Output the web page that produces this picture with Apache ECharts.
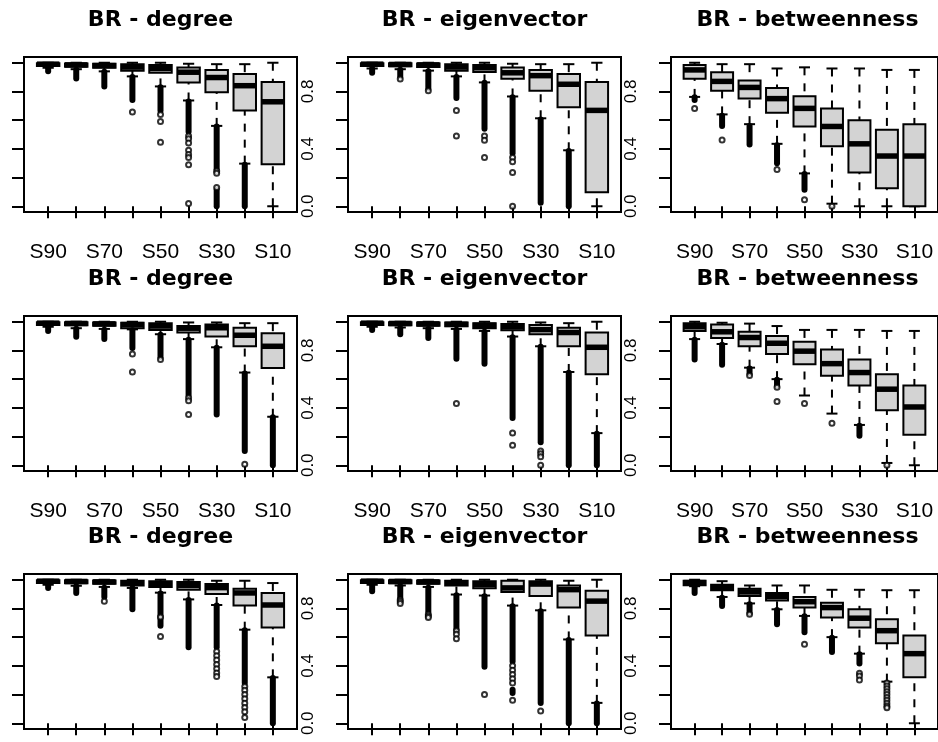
<!DOCTYPE html>
<html>
<head>
<meta charset="utf-8">
<title>BR boxplots</title>
<script src="https://cdn.jsdelivr.net/npm/echarts@6/dist/echarts.min.js"></script>
<style>
  html, body { margin: 0; background: #fff; }
  #main { width: 938px; height: 742px; }
</style>
</head>
<body>
<div id="main"></div>
<script>
// categories along x (only every other one gets a label, like R dropped the rest)
var categories = ['S90', 'S80', 'S70', 'S60', 'S50', 'S40', 'S30', 'S20', 'S10'];
var shownCats = [1, 3, 5, 7, 9];
var yTicks = [0, 0.2, 0.4, 0.6, 0.8, 1.0];
var yLabels = [0, 0.4, 0.8];
var titles = ['BR - degree', 'BR - eigenvector', 'BR - betweenness'];

// box stats per category: [lower whisker, q1, median, q3, upper whisker]
// dense outlier runs: [category, from, to]; single outliers: [category, value]

// ---- row 1
var deg1 = [[0.965,0.978,0.99,0.996,1.0],[0.955,0.972,0.985,0.995,1.0],[0.94,0.965,0.98,0.993,1.0],
  [0.905,0.945,0.97,0.99,1.0],[0.835,0.93,0.96,0.985,1.0],[0.737,0.863,0.934,0.966,0.993],
  [0.56,0.794,0.897,0.95,0.99],[0.297,0.668,0.84,0.922,0.99],[0.0,0.293,0.728,0.865,1.0]];
var deg1Dense = [[1,0.94,0.962],[2,0.89,0.952],[3,0.835,0.937],[4,0.74,0.9],[5,0.665,0.83],
  [6,0.52,0.73],[7,0.26,0.555],[7,0.0,0.115],[8,0.0,0.29]];
var deg1Out = [[4,0.657],[5,0.64],[5,0.59],[5,0.446],[6,0.49],[6,0.47],[6,0.44],[6,0.39],[6,0.36],
  [6,0.34],[6,0.29],[6,0.02],[7,0.245],[7,0.23],[7,0.13]];

var eig1 = [[0.96,0.978,0.99,0.996,1.0],[0.955,0.975,0.988,0.996,1.0],[0.945,0.97,0.985,0.995,1.0],
  [0.905,0.945,0.97,0.99,1.0],[0.863,0.935,0.965,0.985,1.0],[0.765,0.888,0.93,0.966,0.993],
  [0.613,0.805,0.91,0.95,0.99],[0.39,0.69,0.85,0.922,0.99],[0.0,0.098,0.668,0.865,1.0]];
var eig1Dense = [[1,0.93,0.958],[2,0.905,0.952],[3,0.82,0.94],[4,0.755,0.9],[5,0.54,0.86],
  [6,0.37,0.76],[7,0.025,0.605],[8,0.0,0.385]];
var eig1Out = [[2,0.886],[3,0.805],[4,0.668],[4,0.49],[5,0.49],[5,0.46],[5,0.34],
  [6,0.34],[6,0.31],[6,0.236],[6,0.0]];

var bet1 = [[0.762,0.888,0.95,0.984,1.0],[0.64,0.805,0.87,0.934,0.99],[0.572,0.75,0.828,0.876,0.99],
  [0.435,0.652,0.75,0.824,0.96],[0.229,0.556,0.682,0.767,0.968],[0.018,0.419,0.556,0.682,0.96],
  [0.0,0.236,0.435,0.6,0.96],[0.0,0.126,0.35,0.533,0.95],[0.0,0.0,0.35,0.572,0.95]];
var bet1Dense = [[1,0.74,0.76],[2,0.56,0.63],[3,0.43,0.56],[4,0.3,0.425],[5,0.115,0.225]];
var bet1Out = [[1,0.682],[2,0.462],[4,0.256],[5,0.046],[6,0.0]];

// ---- row 2
var deg2 = [[0.965,0.978,0.99,0.996,1.0],[0.955,0.975,0.988,0.996,1.0],[0.95,0.972,0.985,0.995,1.0],
  [0.947,0.955,0.98,0.993,1.0],[0.913,0.943,0.97,0.99,1.0],[0.879,0.925,0.955,0.97,0.995],
  [0.822,0.897,0.958,0.98,0.995],[0.646,0.829,0.906,0.959,0.99],[0.338,0.678,0.829,0.92,0.99]];
var deg2Dense = [[1,0.935,0.962],[2,0.895,0.952],[3,0.88,0.945],[4,0.817,0.94],[5,0.753,0.91],
  [6,0.49,0.875],[7,0.354,0.818],[8,0.1,0.64],[9,0.0,0.335]];
var deg2Out = [[4,0.776],[4,0.65],[5,0.737],[6,0.47],[6,0.45],[6,0.354],[8,0.007]];

var eig2 = [[0.965,0.978,0.99,0.996,1.0],[0.96,0.976,0.988,0.996,1.0],[0.955,0.972,0.985,0.995,1.0],
  [0.95,0.968,0.982,0.994,1.0],[0.936,0.955,0.975,0.99,1.0],[0.897,0.94,0.965,0.985,1.0],
  [0.829,0.913,0.945,0.977,0.995],[0.65,0.829,0.925,0.959,0.99],[0.224,0.635,0.822,0.925,1.0]];
var eig2Dense = [[1,0.943,0.962],[2,0.913,0.955],[3,0.886,0.95],[4,0.742,0.945],[5,0.708,0.93],
  [6,0.33,0.892],[7,0.16,0.825],[8,0.0,0.645],[9,0.0,0.22]];
var eig2Out = [[4,0.43],[6,0.224],[6,0.14],[7,0.1],[7,0.08],[7,0.06],[7,0.0]];

var bet2 = [[0.879,0.936,0.965,0.99,1.0],[0.845,0.886,0.93,0.98,0.993],[0.68,0.829,0.89,0.93,0.987],
  [0.6,0.776,0.85,0.9,0.97],[0.486,0.703,0.795,0.86,0.943],[0.36,0.623,0.708,0.806,0.943],
  [0.281,0.555,0.646,0.737,0.943],[0.016,0.384,0.53,0.635,0.936],[0.0,0.212,0.406,0.555,0.936]];
var bet2Dense = [[1,0.737,0.875],[2,0.7,0.84],[3,0.64,0.675],[4,0.555,0.595],[7,0.205,0.275]];
var bet2Out = [[3,0.625],[4,0.543],[4,0.445],[5,0.43],[6,0.292],[8,0.0]];

// ---- row 3
var deg3 = [[0.965,0.978,0.99,0.996,1.0],[0.958,0.975,0.988,0.996,1.0],[0.95,0.972,0.985,0.995,1.0],
  [0.943,0.96,0.978,0.993,1.0],[0.91,0.95,0.972,0.99,1.0],[0.863,0.93,0.96,0.985,1.0],
  [0.824,0.9,0.945,0.97,0.993],[0.652,0.82,0.908,0.938,0.993],[0.32,0.668,0.824,0.908,0.977]];
var deg3Dense = [[1,0.943,0.962],[2,0.908,0.955],[3,0.88,0.945],[4,0.794,0.94],[5,0.68,0.905],
  [6,0.53,0.858],[7,0.53,0.82],[8,0.28,0.648],[9,0.0,0.316]];
var deg3Out = [[3,0.851],[5,0.74],[5,0.604],[7,0.5],[7,0.47],[7,0.44],[7,0.41],[7,0.38],[7,0.35],
  [7,0.325],[8,0.256],[8,0.23],[8,0.2],[8,0.17],[8,0.14],[8,0.11],[8,0.08],[8,0.04]];

var eig3 = [[0.965,0.978,0.99,0.996,1.0],[0.96,0.975,0.988,0.996,1.0],[0.95,0.972,0.985,0.995,1.0],
  [0.897,0.96,0.978,0.993,1.0],[0.89,0.94,0.968,0.99,1.0],[0.82,0.915,0.943,0.993,1.0],
  [0.787,0.886,0.97,0.99,1.0],[0.584,0.806,0.931,0.96,0.993],[0.142,0.611,0.851,0.924,1.0]];
var eig3Dense = [[1,0.92,0.962],[2,0.874,0.955],[3,0.78,0.945],[4,0.657,0.892],[5,0.394,0.885],
  [6,0.43,0.815],[6,0.21,0.233],[7,0.142,0.78],[8,0.0,0.58],[9,0.0,0.138]];
var eig3Out = [[2,0.86],[2,0.848],[2,0.835],[3,0.76],[3,0.748],[3,0.737],[4,0.645],[4,0.62],[4,0.588],
  [5,0.2],[6,0.4],[6,0.37],[6,0.34],[6,0.31],[6,0.28],[6,0.16],[7,0.085]];

var bet3 = [[0.955,0.962,0.98,0.993,1.0],[0.88,0.927,0.945,0.965,0.99],[0.835,0.886,0.915,0.938,0.96],
  [0.794,0.856,0.883,0.908,0.96],[0.748,0.806,0.847,0.88,0.96],[0.6,0.737,0.806,0.84,0.93],
  [0.485,0.668,0.732,0.794,0.93],[0.29,0.558,0.645,0.725,0.927],[0.0,0.32,0.485,0.611,0.927]];
var bet3Dense = [[1,0.908,0.952],[2,0.817,0.875],[3,0.77,0.83],[4,0.69,0.79],[5,0.634,0.745],
  [6,0.497,0.595],[7,0.417,0.48]];
var bet3Out = [[3,0.76],[5,0.55],[7,0.348],[7,0.33],[7,0.302],[8,0.28],[8,0.26],[8,0.24],[8,0.22],
  [8,0.2],[8,0.18],[8,0.16],[8,0.14],[8,0.12],[8,0.108]];

var panels = [
  [deg1, deg1Dense, deg1Out], [eig1, eig1Dense, eig1Out], [bet1, bet1Dense, bet1Out],
  [deg2, deg2Dense, deg2Out], [eig2, eig2Dense, eig2Out], [bet2, bet2Dense, bet2Out],
  [deg3, deg3Dense, deg3Out], [eig3, eig3Dense, eig3Out], [bet3, bet3Dense, bet3Out]
];

// layout of the 3x3 R-style device (right column is cut off by the window)
var colLeft = [24, 348, 671];
var rowTop = [57, 316, 574];
var plotW = 273, plotH = 155;

var tickFont = "'Liberation Sans', Arial, sans-serif";

function renderBox(params, api) {
  var x = api.value(0);
  var lo = api.coord([x, api.value(1)]);
  var q1 = api.coord([x, api.value(2)]);
  var md = api.coord([x, api.value(3)]);
  var q3 = api.coord([x, api.value(4)]);
  var hi = api.coord([x, api.value(5)]);
  var bw = api.size([0.8, 0])[0];
  var sw = bw / 4;
  var cx = md[0];
  var dash = { stroke: '#000', lineWidth: 2, lineDash: [8, 8] };
  var solid = { stroke: '#000', lineWidth: 2 };
  return {
    type: 'group',
    children: [
      { type: 'line', shape: { x1: cx, y1: hi[1], x2: cx, y2: q3[1] }, style: dash },
      { type: 'line', shape: { x1: cx, y1: lo[1], x2: cx, y2: q1[1] }, style: dash },
      { type: 'line', shape: { x1: cx - sw, y1: hi[1], x2: cx + sw, y2: hi[1] }, style: solid },
      { type: 'line', shape: { x1: cx - sw, y1: lo[1], x2: cx + sw, y2: lo[1] }, style: solid },
      { type: 'rect', shape: { x: cx - bw / 2, y: q3[1], width: bw, height: q1[1] - q3[1] },
        style: { fill: '#d3d3d3', stroke: '#000', lineWidth: 2 } },
      { type: 'line', shape: { x1: cx - bw / 2, y1: md[1], x2: cx + bw / 2, y2: md[1] },
        style: { stroke: '#000', lineWidth: 5.5 } }
    ]
  };
}

function renderRun(params, api) {
  var a = api.coord([api.value(0), api.value(1)]);
  var b = api.coord([api.value(0), api.value(2)]);
  return {
    type: 'line',
    shape: { x1: a[0], y1: a[1], x2: b[0], y2: b[1] },
    style: { stroke: '#000', lineWidth: 6, lineCap: 'round' }
  };
}

var grids = [], xAxes = [], yAxes = [], series = [], titleList = [];

panels.forEach(function (p, i) {
  var row = Math.floor(i / 3), col = i % 3;
  grids.push({
    left: colLeft[col], top: rowTop[row], width: plotW, height: plotH,
    show: true, borderColor: '#000', borderWidth: 2, backgroundColor: 'transparent'
  });
  xAxes.push({
    gridIndex: i, type: 'value', min: 0.14, max: 9.86,
    axisLine: { show: false }, splitLine: { show: false },
    axisTick: { show: true, length: 12, customValues: [1, 2, 3, 4, 5, 6, 7, 8, 9],
      lineStyle: { color: '#000', width: 2 } },
    axisLabel: { show: row < 2, customValues: shownCats, margin: 30, color: '#000',
      fontFamily: tickFont, fontSize: 21,
      formatter: function (v) { return categories[Math.round(v) - 1]; } }
  });
  yAxes.push({
    gridIndex: i, type: 'value', min: -0.04, max: 1.04,
    axisLine: { show: false }, splitLine: { show: false },
    axisTick: { show: true, length: 12, customValues: yTicks,
      lineStyle: { color: '#000', width: 2 } },
    axisLabel: { show: col > 0, customValues: yLabels, rotate: 90, margin: 31, color: '#000',
      fontFamily: tickFont, fontSize: 17,
      formatter: function (v) { return v.toFixed(1); } }
  });
  titleList.push({
    text: titles[col], left: colLeft[col] + plotW / 2, top: rowTop[row] - 48,
    textAlign: 'center', padding: 0,
    textStyle: { fontFamily: "'DejaVu Sans', sans-serif", fontWeight: 'bold', fontSize: 22, color: '#000' }
  });
  series.push({
    type: 'custom', xAxisIndex: i, yAxisIndex: i, renderItem: renderBox,
    data: p[0].map(function (s, k) { return [k + 1].concat(s); })
  });
  series.push({
    type: 'custom', xAxisIndex: i, yAxisIndex: i, renderItem: renderRun, data: p[1]
  });
  series.push({
    type: 'scatter', xAxisIndex: i, yAxisIndex: i, data: p[2],
    symbol: 'emptyCircle', symbolSize: 5,
    itemStyle: { color: '#000', borderWidth: 1.4 }
  });
});

var chart = echarts.init(document.getElementById('main'));
chart.setOption({
  animation: false,
  backgroundColor: '#fff',
  title: titleList,
  grid: grids,
  xAxis: xAxes,
  yAxis: yAxes,
  series: series
});
</script>
</body>
</html>
